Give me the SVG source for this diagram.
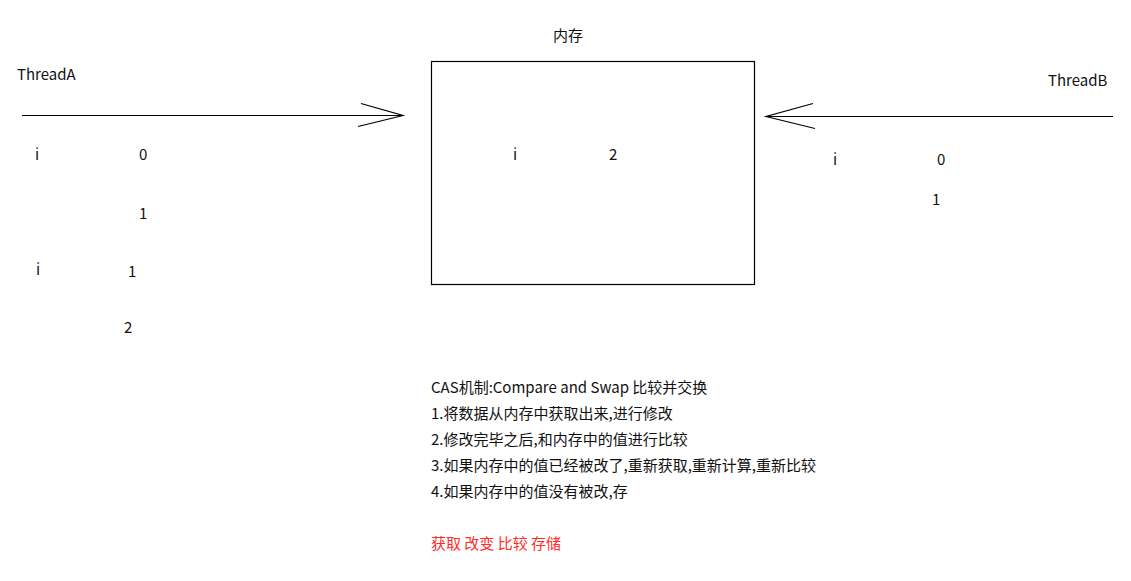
<svg xmlns="http://www.w3.org/2000/svg" width="1131" height="581" viewBox="0 0 1131 581">
<style>
text{font-family:"Noto Sans CJK SC","Microsoft YaHei","Noto Sans",sans-serif;font-size:15px;fill:#111}
.red{fill:#ff2a2a}
.ln{stroke:#000;stroke-width:1.2;fill:none}
</style>
<rect width="1131" height="581" fill="#fff"/>
<g id="threadA">
<text x="17" y="80">ThreadA</text>
<text x="35" y="160">i</text>
<text x="139" y="160">0</text>
<text x="139" y="219">1</text>
<text x="36" y="275">i</text>
<text x="128" y="277">1</text>
<text x="124" y="333">2</text>
</g>
<g id="memory">
<text x="553" y="41">内存</text>
<rect x="431.5" y="61.5" width="323" height="223" class="ln"/>
<text x="513" y="160">i</text>
<text x="609" y="160">2</text>
</g>
<g id="threadB">
<text x="1048" y="86">ThreadB</text>
<text x="833" y="165">i</text>
<text x="937" y="165">0</text>
<text x="932" y="205">1</text>
</g>
<g id="connectors">
<line x1="22" y1="115.5" x2="403" y2="115.5" class="ln"/>
<polyline points="361,103.5 403,115.5 358,126.5" class="ln"/>
<line x1="1113" y1="116.5" x2="766" y2="116.5" class="ln"/>
<polyline points="813,103.5 766,116.5 815,128.5" class="ln"/>
</g>
<g id="notes">
<text x="431" y="393">CAS机制:Compare and Swap 比较并交换</text>
<text x="431" y="419">1.将数据从内存中获取出来,进行修改</text>
<text x="431" y="445">2.修改完毕之后,和内存中的值进行比较</text>
<text x="431" y="471">3.如果内存中的值已经被改了,重新获取,重新计算,重新比较</text>
<text x="431" y="497">4.如果内存中的值没有被改,存</text>
<text x="431" y="549" class="red">获取 改变 比较 存储</text>
</g>
</svg>
